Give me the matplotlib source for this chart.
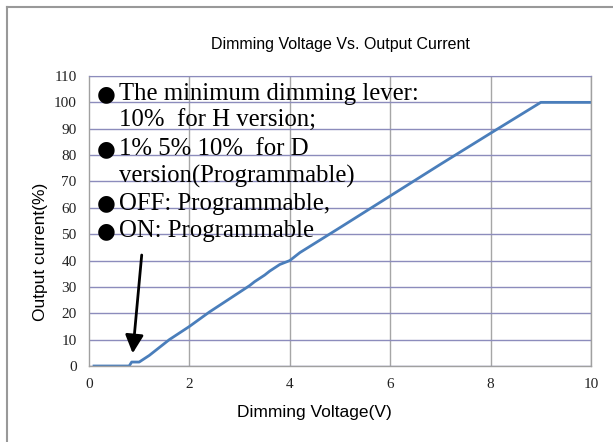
import matplotlib
matplotlib.use("Agg")
import matplotlib.pyplot as plt
from matplotlib.lines import Line2D

# data
voltage = [0.1, 0.8, 0.85, 1.0, 1.2, 1.6, 2.0, 2.4, 2.8, 3.0, 3.2, 3.3, 3.5, 3.6, 3.8, 4.0, 4.2,
           5.0, 6.0, 7.0, 8.0, 9.0, 10.0]
current = [0, 0, 1.5, 1.5, 4, 10, 15, 20.5, 25.5, 28, 30.5, 32, 34.5, 36, 38.5, 40, 43,
           52.5, 64.5, 76.5, 88.3, 100, 100]
x_ticks = [0, 2, 4, 6, 8, 10]
y_ticks = list(range(0, 111, 10))
title = "Dimming Voltage Vs. Output Current"
x_label = "Dimming Voltage(V)"
y_label = "Output current(%)"
note_lines = [("●", "The minimum dimming lever:"),
              ("", "10%  for H version;"),
              ("●", "1% 5% 10%  for D"),
              ("", "version(Programmable)"),
              ("●", "OFF: Programmable,"),
              ("●", "ON: Programmable")]

W, H = 613, 442
fig = plt.figure(figsize=(W / 100, H / 100), dpi=100)
fig.patch.set_facecolor("white")
ax = fig.add_axes([89 / W, 1 - 366 / H, (591 - 89) / W, (366 - 76) / H])

ax.plot(voltage, current, color="#4a7ebb", lw=2.0, solid_joinstyle="round")
ax.set_xlim(0, 10)
ax.set_ylim(0, 110)
ax.set_xticks(x_ticks)
ax.set_yticks(y_ticks)
ax.set_xticklabels([str(v) for v in x_ticks], family="Liberation Serif", fontsize=11, color="#222222")
ax.set_yticklabels([str(v) for v in y_ticks], family="Liberation Serif", fontsize=11, color="#222222")
ax.tick_params(length=0)
ax.tick_params(axis="y", pad=9)
ax.tick_params(axis="x", pad=9)

for y in y_ticks:
    ax.axhline(y, color="#8c8cbc", lw=1.0, zorder=0.5)
for x in x_ticks[1:]:
    ax.axvline(x, color="#a6a6a6", lw=1.0, zorder=0.4)
for s in ["left", "bottom", "right"]:
    ax.spines[s].set_color("#a0a0a0")
    ax.spines[s].set_linewidth(1.0)
ax.spines["top"].set_color("#8c8cbc")

fig.text(340 / W, 1 - 44 / H, title, family="Liberation Sans", fontsize=11.5, ha="center", va="center")
fig.text(314 / W, 1 - 413 / H, x_label, family="Liberation Sans", fontsize=12.5, ha="center", va="center")
fig.text(41 / W, 1 - 252 / H, y_label, family="Liberation Sans", fontsize=12.5, ha="center", va="center",
         rotation=90)

# note text
y0 = 94
dy = 27.4
for i, (b, t) in enumerate(note_lines):
    yp = 1 - (y0 + i * dy) / H
    if b:
        fig.text(106 / W, yp, b, family="DejaVu Sans", fontsize=15.5, ha="center", va="center")
    fig.text(119 / W, yp, t, family="Liberation Serif", fontsize=17.8, ha="left", va="center")

ax.annotate("", xy=(0.87, 4.8), xytext=(1.05, 42.1),
            arrowprops=dict(arrowstyle="-|>,head_length=1.1,head_width=0.55",
                            color="black", lw=2.0, shrinkA=0, shrinkB=0))

# figure border
fig.add_artist(Line2D([7 / W, 7 / W], [0, 1 - 7 / H], transform=fig.transFigure, color="#999999", lw=1.5))
fig.add_artist(Line2D([7 / W, 1], [1 - 7 / H, 1 - 7 / H], transform=fig.transFigure, color="#999999", lw=1.5))

fig.savefig("out.png", dpi=100)
